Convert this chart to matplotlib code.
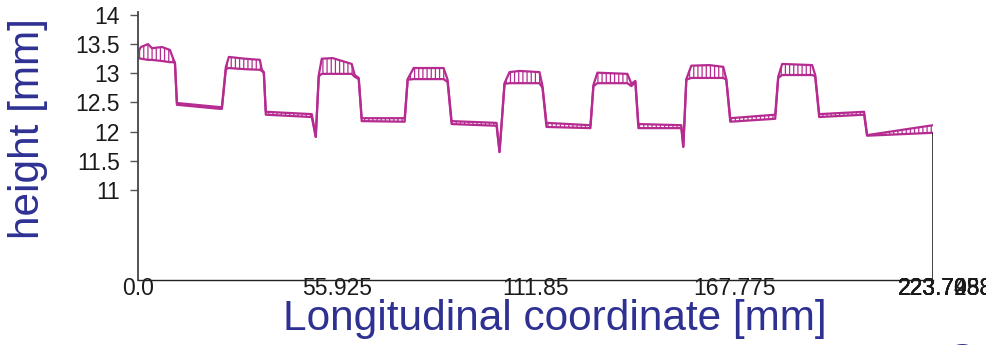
import numpy as np
import matplotlib
matplotlib.use("Agg")
import matplotlib.pyplot as plt

plt.rcParams['font.family'] = ['Liberation Sans', 'DejaVu Sans']
plt.rcParams['hatch.linewidth'] = 0.9

# profile: x position, upper edge, lower edge [mm]
x_mm = [0.0, 0.84, 2.81, 3.93, 6.75, 8.99, 9.84, 10.40, 10.96, 23.04,
        23.61, 24.73, 25.57, 30.07, 34.29, 34.85, 35.41, 35.97, 48.90, 50.02,
        50.87, 51.71, 54.80, 60.14, 60.98, 62.11, 62.95, 75.04, 75.88, 77.56,
        85.99, 87.12, 88.24, 100.89, 101.73, 103.14, 104.54, 107.35, 112.97, 113.82,
        114.94, 127.31, 128.15, 129.27, 137.70, 138.83, 139.95, 140.80, 152.88, 153.44,
        154.29, 155.69, 160.75, 164.68, 165.53, 166.65, 179.30, 180.14, 181.26, 189.70,
        190.55, 191.67, 204.31, 205.15, 223.70]
top_mm = [13.37, 13.45, 13.50, 13.43, 13.45, 13.40, 13.26, 13.18, 12.49, 12.42,
          12.42, 13.11, 13.28, 13.25, 13.23, 13.06, 13.02, 12.34, 12.30, 11.91,
          12.97, 13.25, 13.26, 13.16, 12.97, 12.92, 12.23, 12.23, 12.90, 13.09,
          13.09, 12.89, 12.18, 12.15, 11.65, 12.83, 13.02, 13.04, 13.02, 12.78,
          12.15, 12.11, 12.80, 13.01, 12.99, 12.82, 12.87, 12.13, 12.11, 11.74,
          12.90, 13.13, 13.14, 13.11, 12.90, 12.23, 12.29, 12.94, 13.16, 13.14,
          12.97, 12.30, 12.34, 11.94, 12.11]
bot_mm = [13.26, 13.25, 13.23, 13.23, 13.21, 13.19, 13.19, 13.18, 12.46, 12.39,
          12.39, 13.07, 13.09, 13.07, 13.06, 13.04, 13.01, 12.29, 12.25, 11.91,
          12.95, 12.99, 12.99, 12.99, 12.94, 12.90, 12.18, 12.17, 12.89, 12.90,
          12.90, 12.85, 12.13, 12.10, 11.65, 12.82, 12.83, 12.83, 12.83, 12.75,
          12.08, 12.06, 12.78, 12.83, 12.83, 12.78, 12.85, 12.06, 12.06, 11.74,
          12.89, 12.92, 12.92, 12.92, 12.89, 12.17, 12.22, 12.92, 12.97, 12.97,
          12.95, 12.25, 12.29, 11.93, 11.98]

x_ticks = [0.0, 55.925, 111.85, 167.775, 223.7]
x_labels = ['0.0', '55.925', '111.85', '167.775', '223.70']
end_labels = ['223.7088', '223.7233', '223.7458', '223.7983']
y_ticks = [11, 11.5, 12, 12.5, 13, 13.5, 14]
y_labels = ['11', '11.5', '12', '12.5', '13', '13.5', '14']

line_col = '#b52b90'
label_col = '#2e3192'
fs_tick = 16.5

fig = plt.figure(figsize=(9.87, 3.45), dpi=100)
ax = fig.add_axes([0.1398, 0.1884, 0.9453 - 0.1398, 0.9652 - 0.1884])

ax.fill_between(x_mm, bot_mm, top_mm, facecolor='none', edgecolor=line_col,
                hatch='||||', linewidth=0)
ax.plot(x_mm, top_mm, color=line_col, lw=1.6)
ax.plot(x_mm, bot_mm, color=line_col, lw=1.6)

ymin, ymax = 9.457, 14.05
ax.vlines(x_mm[-1], ymin, bot_mm[-1], color='#222222', lw=1.2)

ax.set_xlim(0, 223.7)
ax.set_ylim(ymin, ymax)

ax.spines['top'].set_visible(False)
ax.spines['right'].set_visible(False)
ax.spines['left'].set_color('#444444')
ax.spines['left'].set_linewidth(1.3)
ax.spines['bottom'].set_color('#222222')
ax.spines['bottom'].set_linewidth(1.0)

ax.set_yticks(y_ticks)
ax.set_yticklabels(y_labels)
ax.set_xticks(x_ticks)
ax.set_xticklabels(x_labels)
ax.tick_params(axis='y', direction='out', length=6, width=1, color='#555555',
               labelsize=fs_tick, pad=7, labelcolor='#1a1a1a')
ax.tick_params(axis='x', length=0, labelsize=fs_tick, pad=-2, labelcolor='#1a1a1a')

# overlapping labels at the right end
half_w = 3.058 * fs_tick / 2
for lab in end_labels:
    ax.annotate(lab, xy=(x_ticks[-1], 0), xycoords=('data', 'axes fraction'),
                xytext=(-half_w, 2), textcoords='offset points',
                ha='left', va='top', fontsize=fs_tick, color='#1a1a1a')

fig.text(0.028, 0.628, 'height [mm]', rotation=90, ha='center', va='center',
         fontsize=30.5, color=label_col)
fig.text(0.5625, 0.075, 'Longitudinal coordinate [mm]', ha='center', va='center',
         fontsize=30.5, color=label_col)
fig.text(0.958, -0.082, 'C', ha='left', va='baseline', fontsize=30.5, color=label_col)

fig.savefig('out.png', dpi=100)
